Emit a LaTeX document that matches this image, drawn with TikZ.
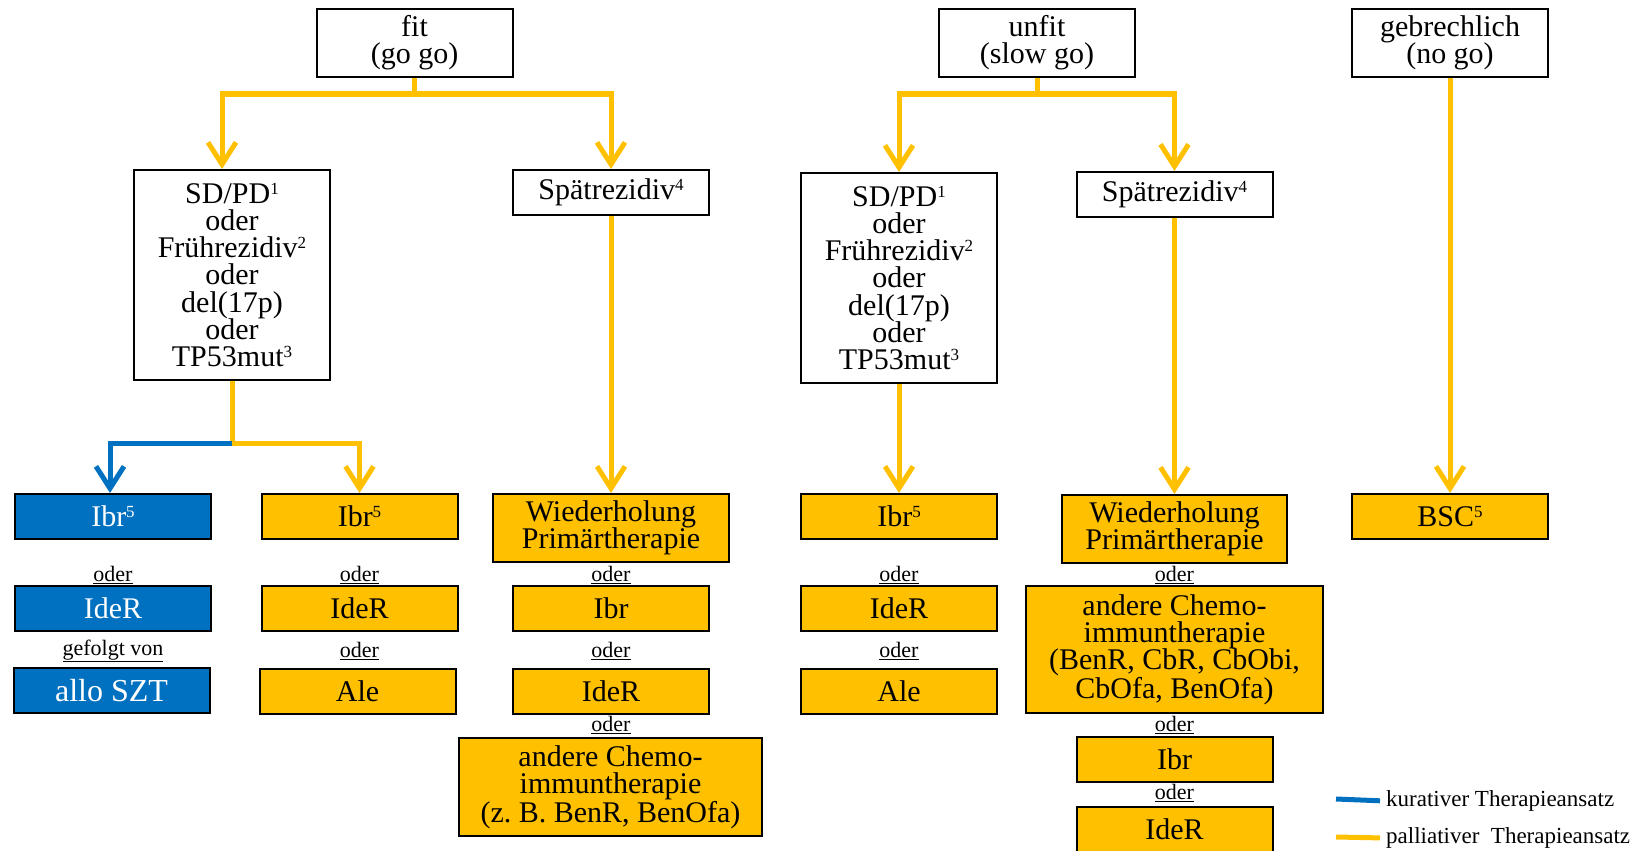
\documentclass[tikz,border=0pt]{standalone}
\usepackage{fontspec}
\setmainfont{Liberation Serif}
\usetikzlibrary{arrows.meta}
\definecolor{kurblue}{RGB}{0,112,192}
\definecolor{palyel}{RGB}{255,192,0}
\tikzset{
  box/.style={draw,line width=2pt,align=center,minimum width=196pt,minimum height=45pt,inner sep=2pt,font=\fontsize{30}{27.3}\selectfont},
  headbox/.style={box,fill=white,minimum height=68pt},
  kurbox/.style={box,fill=kurblue,text=white},
  palbox/.style={box,fill=palyel},
  oderlbl/.style={inner sep=1pt,font=\fontsize{22}{24}\selectfont},
  legtext/.style={anchor=west,inner sep=1pt,font=\fontsize{23}{24}\selectfont},
  kura/.style={draw=kurblue,line width=5pt,-{Straight Barb[length=22pt,width=28pt]}},
  palli/.style={draw=palyel,line width=5pt,-{Straight Barb[length=22pt,width=28pt]}},
  palline/.style={draw=palyel,line width=5pt},
}
\newcommand{\sups}[1]{\raisebox{9pt}{\fontsize{17}{17}\selectfont #1}}
\newcommand{\head}[5][]{\node[headbox,#1] (#2) at (#3,#4) {#5};}
\newcommand{\kbox}[5][]{\node[kurbox,#1] (#2) at (#3,#4) {#5};}
\newcommand{\pbox}[5][]{\node[palbox,#1] (#2) at (#3,#4) {#5};}
\newcommand{\oder}[4]{\node[oderlbl] (#1) at (#2,#3) {\underline{#4}};}
\newcommand{\linkP}[2]{\draw[palli] (#1) -- (#2);}

\begin{document}
\begin{tikzpicture}[x=1pt,y=-1pt]
    \useasboundingbox (0,0) rectangle (1639,851);
    \clip (0,0) rectangle (1639,851);
    \head{fit}{414.5}{43}{fit\\(go go)}
    \head{unfit}{1037}{43}{unfit\\(slow go)}
    \head{gebr}{1450}{43}{gebrechlich\\(no go)}
    \head[minimum height=210pt]{sdpdA}{232}{275}{SD/PD\sups{1}\\oder\\Frührezidiv\sups{2}\\oder\\del(17p)\\oder\\TP53mut\sups{3}}
    \head[minimum height=45pt]{spaetA}{611}{192.5}{Spätrezidiv\sups{4}}
    \head[minimum height=210pt]{sdpdB}{899}{278}{SD/PD\sups{1}\\oder\\Frührezidiv\sups{2}\\oder\\del(17p)\\oder\\TP53mut\sups{3}}
    \head[minimum height=45pt]{spaetB}{1174.5}{194.5}{Spätrezidiv\sups{4}}

    \kbox{ibrK}{113}{516.5}{Ibr\sups{5}}   \oder{oK1}{113}{575}{oder}
    \kbox{ideK}{113}{608}{IdeR}   \oder{oK2}{113}{651}{gefolgt von}
    \kbox[font=\fontsize{32}{30}\selectfont]{szt}{111.5}{690.5}{allo SZT}

    \pbox{ibrP}{359.5}{516.5}{Ibr\sups{5}}   \oder{oP1}{359.5}{575}{oder}
    \pbox{ideP}{359.5}{608}{IdeR}   \oder{oP2}{359.5}{651}{oder}
    \pbox{aleP}{357.5}{691.5}{Ale}

    \pbox[minimum width=236pt,minimum height=68pt]{wdhA}{611}{528}{Wiederholung\\Primärtherapie}   \oder{oA1}{611}{575}{oder}
    \pbox{ibrA}{611}{608.5}{Ibr}   \oder{oA2}{611}{651}{oder}
    \pbox{ideA}{611}{691}{IdeR}   \oder{oA3}{611}{725}{oder}
    \pbox[minimum width=303pt,minimum height=98pt]{chemoA}{610.5}{787}{andere Chemo-\\immuntherapie\\(z.\ B. BenR, BenOfa)}

    \pbox{ibrB}{899}{516.5}{Ibr\sups{5}}   \oder{oB1}{899}{575}{oder}
    \pbox{ideB}{899}{608.5}{IdeR}   \oder{oB2}{899}{651}{oder}
    \pbox{aleB}{899}{691}{Ale}

    \pbox[minimum width=225pt,minimum height=68pt]{wdhB}{1174.5}{529}{Wiederholung\\Primärtherapie}   \oder{oC1}{1174.5}{575}{oder}
    \pbox[minimum width=297pt,minimum height=127pt]{chemoB}{1174.5}{649.5}{andere Chemo-\\immuntherapie\\(BenR, CbR, CbObi,\\CbOfa, BenOfa)}   \oder{oC2}{1174.5}{725}{oder}
    \pbox{ibrC}{1174.5}{759.5}{Ibr}   \oder{oC3}{1174.5}{793}{oder}
    \pbox{ideC}{1174.5}{829}{IdeR}

    \pbox{bsc}{1450}{516.5}{BSC\sups{5}}

    \draw[palli] (fit.south) -- ++(0,16) -| ([xshift=-10pt]sdpdA.north);
    \draw[palli] (fit.south) -- ++(0,16) -| (spaetA.north);
    \draw[palli] (unfit.south) -- ++(0,16) -| (sdpdB.north);
    \draw[palli] (unfit.south) -- ++(0,16) -| (spaetB.north);
    \draw[palline] (sdpdA.south) -- ++(0,62) coordinate (jA);
    \draw[kura] (jA) -| ([xshift=-3pt]ibrK.north);
    \draw[palli] (jA) -| (ibrP.north);
    \linkP{spaetA.south}{wdhA.north}
    \linkP{sdpdB.south}{ibrB.north}
    \linkP{spaetB.south}{wdhB.north}
    \linkP{gebr.south}{bsc.north}

    \node[legtext] (kurleg) at (1385,801) {kurativer Therapieansatz};
    \node[legtext] (palleg) at (1385,838) {palliativer\ \ Therapieansatz};
    \coordinate (kurend) at (1336,799); \coordinate (palend) at (1336,837);
    \draw[draw=kurblue,line width=5pt,shorten >=5pt] (kurend) -- (kurleg.west);
    \draw[palline,shorten >=5pt] (palend) -- (palleg.west);
\end{tikzpicture}
\end{document}
